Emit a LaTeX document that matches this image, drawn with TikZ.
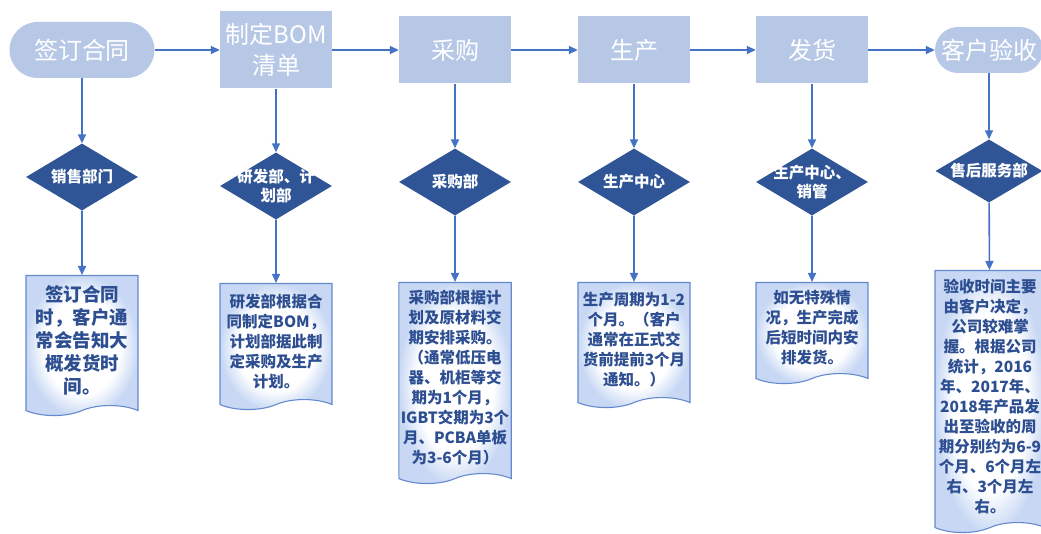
\documentclass[tikz,border=0pt]{standalone}
\usepackage{fontspec}
\newfontfamily\cjk{Noto Sans CJK SC}
\usetikzlibrary{arrows.meta, shapes.geometric, shapes.symbols, positioning}
\definecolor{mylight}{RGB}{183, 200, 230}
\definecolor{mydark}{RGB}{47, 85, 151}
\definecolor{myline}{RGB}{68, 114, 196}
\definecolor{myedge}{RGB}{100, 138, 205}
\definecolor{mytext}{RGB}{45, 78, 145}
\definecolor{myglow}{RGB}{200, 216, 244}
\pgfdeclareradialshading{docglow}{\pgfpoint{0bp}{0bp}}{color(0bp)=(white); color(17bp)=(white); color(25bp)=(myglow); color(50bp)=(myglow)}
\tikzset{
    stepbox/.style={fill=mylight, text=white, minimum width=112pt, minimum height=67pt,
        inner sep=0pt, align=center, font=\cjk\fontsize{24}{31}\selectfont},
    endbox/.style={stepbox, rounded corners=28pt, minimum height=56pt},
    dept/.style={diamond, fill=mydark, minimum width=112pt, minimum height=67pt, inner sep=0pt},
    depttext/.style={text=white, inner sep=0pt, align=center,
        font=\cjk\bfseries\fontsize{15.5}{19}\selectfont},
    docbox/.style={tape, tape bend top=none, tape bend bottom=in and out, tape bend height=10pt,
        draw=myedge, line width=1.1pt, shade, shading=docglow, text=mytext, anchor=north,
        minimum width=112pt, inner sep=2pt, align=center,
        font=\cjk\bfseries\fontsize{15.5}{20}\selectfont},
    flow/.style={myline, line width=1.6pt, -{Triangle[length=9pt, width=8pt]}}
}

\begin{document}
\begin{tikzpicture}[x=1pt, y=-1pt]
    % page frame of the reference
    \useasboundingbox (0, 0) rectangle (1041, 534);

    % ----------------------------------------------------
    % TOP ROW: process steps
    % ----------------------------------------------------
    \node[endbox, minimum width=145pt] (sign) at (82, 50) {签订合同};
    \node[stepbox, minimum height=77pt] (bom) at (276, 50) {制定BOM\\清单};
    \node[stepbox] (buy) at (455, 50) {采购};
    \node[stepbox] (make) at (634, 50) {生产};
    \node[stepbox] (ship) at (812, 50) {发货};
    \node[endbox, minimum width=108pt, minimum height=46pt, rounded corners=23pt] (accept) at (989, 50) {客户验收};

    \draw[flow] (sign) -- (bom);
    \draw[flow] (bom) -- (buy);
    \draw[flow] (buy) -- (make);
    \draw[flow] (make) -- (ship);
    \draw[flow] (ship) -- (accept);

    % ----------------------------------------------------
    % MIDDLE ROW: departments in charge
    % ----------------------------------------------------
    \node[dept] (sales) at (82, 177) {};
    \node[depttext] (salest) at (sales) {销售部门};
    \node[dept] (rnd) at (276, 186) {};
    \node[depttext] (rndt) at (rnd) {研发部、计\\划部};
    \node[dept] (purch) at (455, 182) {};
    \node[depttext] (purcht) at (purch) {采购部};
    \node[dept] (center) at (634, 182) {};
    \node[depttext] (centert) at (center) {生产中心};
    \node[dept] (logis) at (812, 182) {};
    \node[depttext] (logist) at (logis) {生产中心、\\销管};
    \node[dept, minimum width=107pt, minimum height=63pt] (service) at (989, 171) {};
    \node[depttext] (servicet) at (service) {售后服务部};

    \draw[flow] (sign) -- (sales);
    \draw[flow] (bom) -- (rnd);
    \draw[flow] (buy) -- (purch);
    \draw[flow] (make) -- (center);
    \draw[flow] (ship) -- (logis);
    \draw[flow] (accept) -- (service);

    % ----------------------------------------------------
    % BOTTOM ROW: notes
    % ----------------------------------------------------
    \node[docbox, minimum height=140pt, font=\cjk\bfseries\fontsize{18.5}{23}\selectfont] (note1) at (82, 275)
        {签订合同\\时，客户通\\常会告知大\\概发货时\\间。};
    \node[docbox, minimum height=126pt] (note2) at (276, 283)
        {研发部根据合\\同制定BOM，\\计划部据此制\\定采购及生产\\计划。};
    \node[docbox, minimum height=201pt] (note3) at (455, 282)
        {采购部根据计\\划及原材料交\\期安排采购。\\（通常低压电\\器、机柜等交\\期为1个月，\\IGBT交期为3个\\月、PCBA单板\\为3-6个月）};
    \node[docbox, minimum height=125pt] (note4) at (634, 282)
        {生产周期为1-2\\个月。（客户\\通常在正式交\\货前提前3个月\\通知。）};
    \node[docbox, minimum height=101pt] (note5) at (812, 282)
        {如无特殊情\\况，生产完成\\后短时间内安\\排发货。};
    \node[docbox, minimum width=110pt, minimum height=262pt] (note6) at (990, 270)
        {验收时间主要\\由客户决定，\\公司较难掌\\握。根据公司\\统计，2016\\年、2017年、\\2018年产品发\\出至验收的周\\期分别约为6-9\\个月、6个月左\\右、3个月左\\右。};

    \draw[flow] (sales) -- (note1);
    \draw[flow] (rnd) -- (note2);
    \draw[flow] (purch) -- (note3);
    \draw[flow] (center) -- (note4);
    \draw[flow] (logis) -- (note5);
    \draw[flow] (service) -- (note6);

\end{tikzpicture}
\end{document}
